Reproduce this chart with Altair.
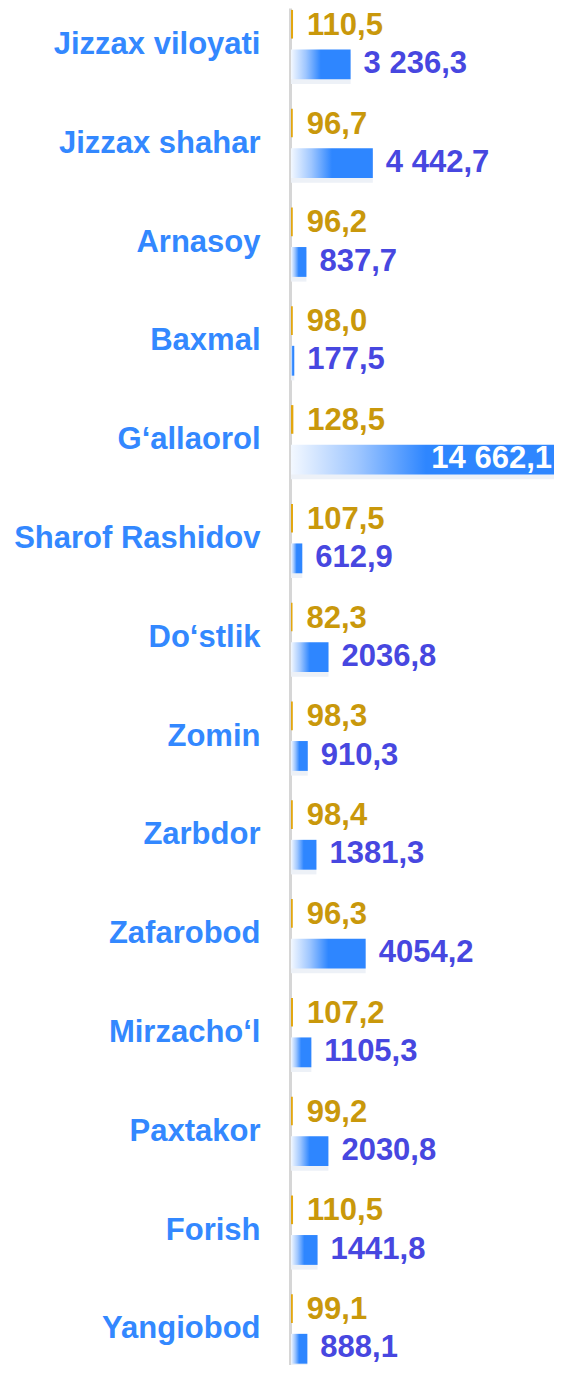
import json
import altair as alt
import pandas as pd

categories = ["Jizzax viloyati", "Jizzax shahar", "Arnasoy", "Baxmal", "G‘allaorol",
              "Sharof Rashidov", "Do‘stlik", "Zomin", "Zarbdor", "Zafarobod",
              "Mirzacho‘l", "Paxtakor", "Forish", "Yangiobod"]
pct = [110.5, 96.7, 96.2, 98.0, 128.5, 107.5, 82.3, 98.3, 98.4, 96.3, 107.2, 99.2, 110.5, 99.1]
vals = [3236.3, 4442.7, 837.7, 177.5, 14662.1, 612.9, 2036.8, 910.3, 1381.3, 4054.2,
        1105.3, 2030.8, 1441.8, 888.1]
val_labels = ["3 236,3", "4 442,7", "837,7", "177,5", "14 662,1", "612,9", "2036,8",
              "910,3", "1381,3", "4054,2", "1105,3", "2030,8", "1441,8", "888,1"]
pct_labels = [f"{p:.1f}".replace(".", ",") for p in pct]

df = pd.DataFrame({
    "idx": list(range(len(categories))),
    "cat": categories,
    "pct": pct,
    "value": vals,
    "vlab": val_labels,
    "plab": pct_labels,
})

XMAX = 14280
FONT = "Liberation Sans"

xscale = alt.Scale(domain=[0, XMAX], nice=False, zero=True)
yscale = alt.Scale(domain=[-0.3694, 13.3654], nice=False, zero=False, reverse=True)
label_expr = json.dumps(categories) + "[datum.value]"
yaxis = alt.Axis(values=list(range(len(categories))), labelExpr=label_expr,
                 domain=True, domainColor="#D6D6D6", domainWidth=3, ticks=False,
                 grid=False, labelFont=FONT, labelFontWeight="bold", labelFontSize=31,
                 labelColor="#3388FF", labelPadding=30, labelLimit=400,
                 labelBaseline="middle", labelOverlap=False, title=None, offset=1)


def Y(field):
    return alt.Y(field, type="quantitative", scale=yscale, axis=yaxis)


base = alt.Chart(df).transform_calculate(
    g0="datum.idx - 0.35", g1="datum.idx - 0.06",
    b0="datum.idx + 0.05", b1="datum.idx + 0.352",
    s0="datum.idx + 0.09", s1="datum.idx + 0.40",
    gm="datum.idx - 0.19", bm="datum.idx + 0.198",
    xl="min(datum.value, %d)" % XMAX,
)

gold_bar = base.mark_bar(color="#E3A70F", clip=True).encode(
    x=alt.X("pct:Q", scale=xscale, axis=None), x2=alt.datum(0),
    y=Y("g0"), y2="g1:Q",
)

shadow = base.mark_bar(color="#EDF1F7", clip=True).encode(
    x=alt.X("value:Q", scale=xscale, axis=None), x2=alt.datum(0),
    y=Y("s0"), y2="s1:Q",
)

grad = alt.Gradient(
    gradient="linear",
    stops=[alt.GradientStop(color="#F3F8FF", offset=0),
           alt.GradientStop(color="#9EC6FF", offset=0.25),
           alt.GradientStop(color="#2E86FF", offset=0.5),
           alt.GradientStop(color="#2E86FF", offset=1)],
    x1=0, x2=1, y1=0, y2=0,
)
blue_bar = base.mark_bar(color=grad, clip=True).encode(
    x=alt.X("value:Q", scale=xscale, axis=None), x2=alt.datum(0),
    y=Y("b0"), y2="b1:Q",
)

gold_text = base.mark_text(align="left", baseline="middle", dx=14, font=FONT,
                           fontWeight="bold", fontSize=31, color="#C9980B").encode(
    x=alt.X("pct:Q", scale=xscale, axis=None),
    y=Y("gm"),
    text="plab:N",
)

blue_text = base.transform_filter(f"datum.value <= {XMAX}").mark_text(
    align="left", baseline="middle", dx=13, font=FONT, fontWeight="bold",
    fontSize=31, color="#4747E0").encode(
    x=alt.X("value:Q", scale=xscale, axis=None),
    y=Y("bm"),
    text="vlab:N",
)

inside_text = base.transform_filter(f"datum.value > {XMAX}").mark_text(
    align="right", baseline="middle", dx=-2, font=FONT, fontWeight="bold",
    fontSize=31, color="#FFFFFF").encode(
    x=alt.X("xl:Q", scale=xscale, axis=None),
    y=Y("bm"),
    text="vlab:N",
)

chart = alt.layer(gold_bar, shadow, blue_bar, gold_text, blue_text, inside_text).properties(
    width=263, height=1357,
    autosize=alt.AutoSizeParams(type="none"),
    padding={"left": 283, "top": 0, "right": 0, "bottom": 0},
).configure_view(stroke=None)

chart.save("out.html", embed_options={"renderer": "svg", "actions": False})
